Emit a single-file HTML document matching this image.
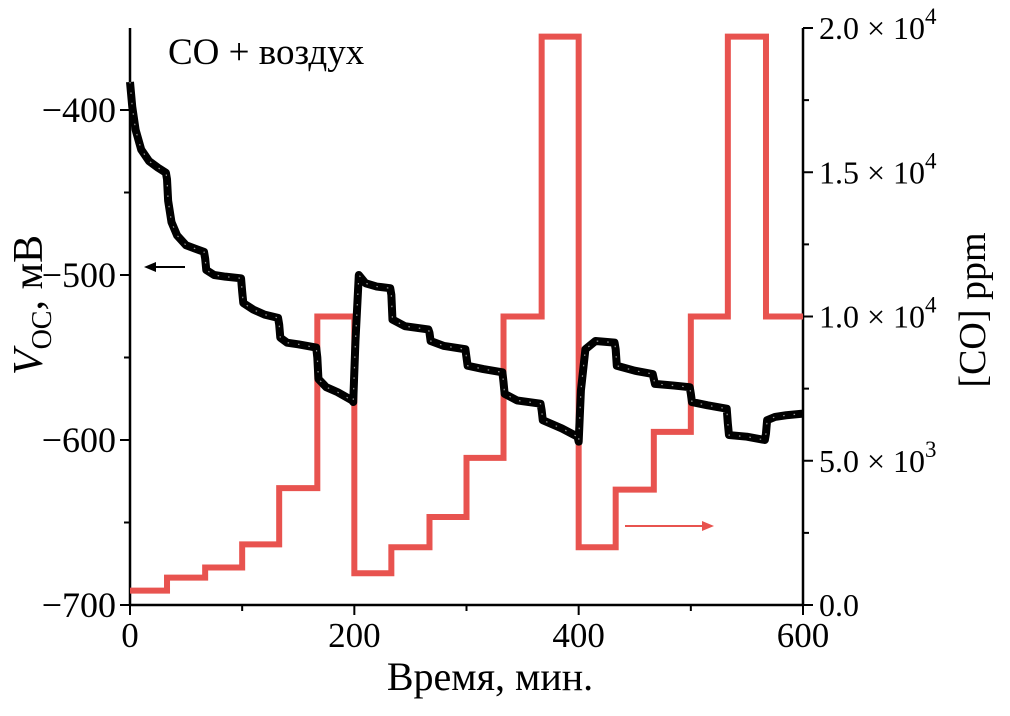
<!DOCTYPE html>
<html><head><meta charset="utf-8">
<style>
body{margin:0;background:#fff;}
svg{display:block;font-family:"Liberation Serif",serif;}
</style></head>
<body>
<svg id="chart" width="1010" height="716" viewBox="0 0 1010 716" xmlns="http://www.w3.org/2000/svg">
<g id="axes"></g>
<g id="series"></g>
<text x="168" y="64" font-size="37">CO + воздух</text>
<text x="490" y="690" font-size="40" text-anchor="middle">Время, мин.</text>
<text transform="translate(42,305) rotate(-90)" font-size="42" text-anchor="middle"><tspan font-style="italic">V</tspan><tspan font-size="28" dy="9">OC</tspan><tspan dy="-9">, мВ</tspan></text>
<text transform="translate(985,310) rotate(-90)" font-size="38" text-anchor="middle">[CO] ppm</text>
<line x1="185" y1="267" x2="148" y2="267" stroke="#000" stroke-width="2"/>
<polygon points="144,267 156,262 156,272" fill="#000"/>
<line x1="625" y1="526" x2="705" y2="526" stroke="#e8534f" stroke-width="2"/>
<polygon points="714,526 702,521 702,531" fill="#e8534f"/>
</svg>
<script>
const coTimes = [0,33,67,100,133,167,200,233,267,300,333,367,400,433,467,500,533,567,600];
const coValues = [500,950,1300,2100,4050,10000,1100,2000,3050,5100,10000,19700,2000,4000,6000,10000,19700,10000];
const vTimes = [0,2,5,10,17,25,32,33,34,37,42,50,58,66,67,68,75,85,99,100,101,110,120,132,133,134,140,150,166,167,168,175,185,198,199,201,204,210,220,232,233,234,245,266,267,268,280,299,300,301,315,332,333,334,345,366,367,368,385,399,400,402,406,415,432,433,434,450,466,467,468,485,499,500,501,515,532,533,534,550,566,567,568,575,585,600];
const vValues = [-383,-398,-412,-424,-431,-435,-438,-442,-455,-468,-476,-482,-484,-486,-490,-497,-500,-501,-502,-510,-517,-521,-524,-526,-530,-538,-541,-542,-544,-550,-563,-568,-571,-576,-577,-540,-500,-505,-507,-508,-512,-527,-531,-533,-535,-540,-543,-545,-550,-555,-557,-559,-565,-572,-576,-578,-582,-588,-593,-598,-601,-570,-545,-540,-541,-545,-555,-558,-560,-563,-566,-567,-568,-572,-577,-579,-581,-590,-597,-598,-600,-596,-588,-586,-585,-584];
const xTicks = [0,200,400,600];
const yTicksLeft = [-400,-500,-600,-700];
const yTicksRight = [0,5000,10000,15000,20000];
const yTickRightLabels = ["0.0","5.0","1.0","1.5","2.0"];
const yTickRightExp = ["","3","4","4","4"];

const X0=130,X1=803,YB=605;
const xs = t => X0 + (t/600)*(X1-X0);
const yl = v => 110 + (-400 - v)*1.65;
const yr = c => 605 - c*(577/20000);
const NS="http://www.w3.org/2000/svg";
function mk(tag, attrs, parent){const e=document.createElementNS(NS,tag);for(const k in attrs)e.setAttribute(k,attrs[k]);parent.appendChild(e);return e;}
const ax=document.getElementById('axes'), se=document.getElementById('series');

let l;
l=mk('line',{x1:X0,y1:28,x2:X0,y2:YB,stroke:'#000','stroke-width':2.5},ax);

l=mk('line',{x1:X1,y1:28,x2:X1,y2:YB,stroke:'#000','stroke-width':2.5},ax);

l=mk('line',{x1:X0,y1:YB,x2:X1,y2:YB,stroke:'#000','stroke-width':2.5},ax);


xTicks.forEach(t=>{
  const x=xs(t);
  const tk=mk('line',{x1:x,y1:YB,x2:x,y2:YB+10,stroke:'#000','stroke-width':2},ax);
  
  const tx=mk('text',{x:x,y:YB+42,'font-size':35,'text-anchor':'middle'},ax);
  tx.textContent=t;
  
});
for(let t=100;t<600;t+=200){const m=mk('line',{x1:xs(t),y1:YB,x2:xs(t),y2:YB+6,stroke:'#000','stroke-width':2},ax);}
yTicksLeft.forEach(v=>{
  const y=yl(v);
  const tk=mk('line',{x1:X0-10,y1:y,x2:X0,y2:y,stroke:'#000','stroke-width':2},ax);
  
  const tx=mk('text',{x:X0-14,y:y+12,'font-size':36,'text-anchor':'end'},ax);
  tx.textContent='\u2212'+Math.abs(v);
  
});
[-450,-550,-650].forEach(v=>{const m=mk('line',{x1:X0-6,y1:yl(v),x2:X0,y2:yl(v),stroke:'#000','stroke-width':2},ax);});
yTicksRight.forEach((c,i)=>{
  const y=yr(c);
  const tk=mk('line',{x1:X1,y1:y,x2:X1+10,y2:y,stroke:'#000','stroke-width':2},ax);
  
  const tx=mk('text',{x:X1+16,y:y+11,'font-size':32},ax);
  
  if(yTickRightExp[i]){
    tx.textContent=yTickRightLabels[i]+' \u00d7 10';
    const s=mk('tspan',{dy:-15,'font-size':23},tx);s.textContent=yTickRightExp[i];
  } else tx.textContent=yTickRightLabels[i];
});
[2500,7500,12500,17500].forEach(c=>{const m=mk('line',{x1:X1,y1:yr(c),x2:X1+6,y2:yr(c),stroke:'#000','stroke-width':2},ax);});

let d='';
coValues.forEach((c,i)=>{
  const x0=xs(coTimes[i]),x1=xs(coTimes[i+1]),y=yr(c);
  d+=(i===0?'M':'L')+x0+','+y+' L'+x1+','+y+' ';
});
const red=mk('path',{d:d,fill:'none',stroke:'#e8534f','stroke-width':6},se);


const vd=vTimes.map((t,i)=>(i?'L':'M')+xs(t)+','+yl(vValues[i])).join(' ');
const blk=mk('path',{d:vd,fill:'none',stroke:'#000','stroke-width':8,'stroke-linejoin':'round'},se);

const dots=mk('path',{d:vd,fill:'none',stroke:'#fff','stroke-width':1.2,'stroke-dasharray':'1.5 9',opacity:0.6},se);

</script>
</body></html>
